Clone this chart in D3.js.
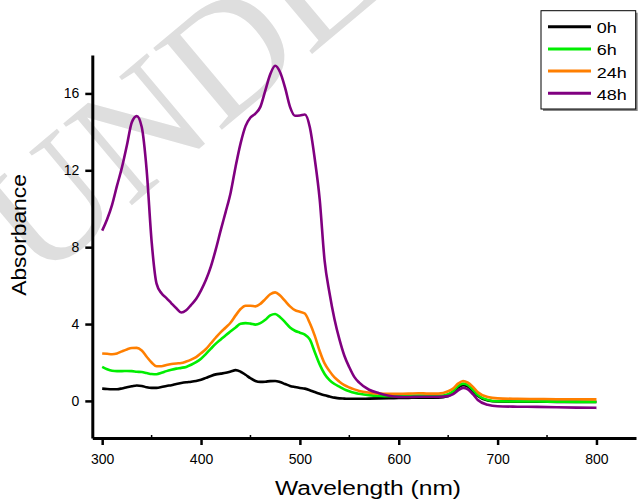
<!DOCTYPE html>
<html>
<head>
<meta charset="utf-8">
<script src="https://cdn.jsdelivr.net/npm/d3@7"></script>
<style>
  html, body { margin: 0; padding: 0; background: #fff; }
  svg { display: block; font-family: "Liberation Sans", Arial, sans-serif; }
</style>
</head>
<body>
<svg id="chart" width="638" height="503"></svg>
<script>
// Wavelength grid (nm) shared by all spectra
const wavelength = [
  300,305,310,315,320,325,330,335,340,345,350,355,360,365,370,375,380,385,390,395,
  400,405,410,415,420,425,430,435,440,445,450,455,460,465,470,475,480,485,490,495,
  500,505,510,515,520,525,530,535,540,545,550,555,560,
  570,580,590,600,610,620,630,640,650,655,660,665,670,675,680,690,700,720,740,760,780,800
];

// Absorbance spectra at each exposure time
const abs0h = [
  0.64,0.62,0.61,0.61,0.65,0.71,0.76,0.80,0.78,0.71,0.68,0.68,0.72,0.78,0.82,0.88,0.93,0.97,1.00,1.04,
  1.10,1.20,1.30,1.38,1.42,1.46,1.53,1.60,1.52,1.36,1.18,1.04,0.99,1.00,1.03,1.04,0.98,0.88,0.78,0.72,
  0.67,0.64,0.56,0.46,0.37,0.29,0.23,0.17,0.13,0.12,0.11,0.11,0.11,
  0.12,0.13,0.14,0.15,0.16,0.17,0.17,0.17,0.26,0.42,0.70,0.82,0.75,0.50,0.25,0.02,-0.03,-0.04,-0.04,-0.05,-0.05,-0.06
];
const abs6h = [
  1.77,1.65,1.57,1.55,1.55,1.56,1.55,1.52,1.50,1.45,1.40,1.39,1.46,1.55,1.62,1.68,1.72,1.77,1.88,2.02,
  2.20,2.45,2.72,2.98,3.20,3.42,3.62,3.82,4.02,4.05,4.02,3.97,4.05,4.22,4.45,4.52,4.35,4.10,3.82,3.65,
  3.55,3.45,3.20,2.55,1.90,1.40,1.08,0.88,0.74,0.60,0.50,0.42,0.37,
  0.30,0.26,0.24,0.25,0.27,0.28,0.27,0.26,0.35,0.50,0.78,0.90,0.82,0.58,0.30,0.05,-0.02,-0.03,-0.03,-0.04,-0.05,-0.05
];
const abs24h = [
  2.47,2.45,2.43,2.47,2.58,2.68,2.75,2.76,2.62,2.30,2.00,1.80,1.80,1.87,1.92,1.95,1.97,2.05,2.15,2.28,
  2.48,2.70,3.00,3.30,3.58,3.82,4.08,4.45,4.78,4.95,4.95,4.92,5.05,5.30,5.55,5.65,5.48,5.20,4.92,4.72,
  4.64,4.55,4.05,3.40,2.60,1.95,1.55,1.22,1.00,0.82,0.70,0.60,0.52,
  0.43,0.38,0.37,0.37,0.38,0.40,0.38,0.38,0.50,0.65,0.90,1.04,0.95,0.73,0.45,0.20,0.13,0.11,0.10,0.09,0.09,0.08
];
const abs48h = [
  8.86,9.45,10.20,11.20,12.15,13.30,14.50,14.82,14.25,12.00,8.30,6.10,5.60,5.35,5.08,4.82,4.60,4.72,5.00,5.30,
  5.75,6.30,7.00,7.90,8.90,9.85,10.85,12.20,13.40,14.30,14.75,14.95,15.30,16.15,17.00,17.44,17.10,16.30,15.30,14.84,
  14.85,14.90,14.25,12.60,10.50,7.30,5.60,4.25,3.20,2.35,1.75,1.25,0.95,
  0.58,0.40,0.27,0.21,0.20,0.22,0.22,0.21,0.25,0.35,0.55,0.68,0.60,0.35,0.05,-0.20,-0.28,-0.30,-0.31,-0.33,-0.35,-0.36
];

const seriesNames  = ["0h", "6h", "24h", "48h"];
const seriesValues = [abs0h, abs6h, abs24h, abs48h];
const seriesColors = ["#000000", "#00ee00", "#ff7f00", "#800080"];

const xTicks = [300, 400, 500, 600, 700, 800];
const xMinorTicks = [350, 450, 550, 650, 750];
const yTicks = [0, 4, 8, 12, 16];

const xLabel = "Wavelength (nm)";
const yLabel = "Absorbance";
const stampText = "UNDER PEER REVIEW";

const svg = d3.select("#chart");

// faint diagonal stamp in the background
svg.append("text")
  .attr("transform", "translate(38,284) rotate(-40)")
  .attr("font-family", "'Liberation Serif', 'Times New Roman', serif")
  .attr("font-size", 163)
  .attr("fill", "#dedede")
  .text(stampText);

const x = d3.scaleLinear().domain([290, 840]).range([92.3, 636]);
const y = d3.scaleLinear().domain([-1.93, 18]).range([438, 55]);

// spectra
const line = d3.line()
  .x(d => x(d[0]))
  .y(d => y(d[1]))
  .curve(d3.curveMonotoneX);

svg.append("g").selectAll("path")
  .data(seriesValues.map((vals, i) => ({ name: seriesNames[i], color: seriesColors[i], pts: wavelength.map((w, j) => [w, vals[j]]) })))
  .join("path")
  .attr("fill", "none")
  .attr("stroke", d => d.color)
  .attr("stroke-width", 2.6)
  .attr("stroke-linejoin", "round")
  .attr("d", d => line(d.pts));

// x axis
const xAxis = svg.append("g")
  .attr("transform", `translate(0,${y.range()[0]})`)
  .call(d3.axisBottom(x).tickValues(xTicks).tickSize(7).tickSizeOuter(0).tickPadding(9).tickFormat(d3.format("d")));
xAxis.select(".domain").attr("stroke", "#000").attr("stroke-width", 3);
xAxis.selectAll(".tick line").attr("stroke", "#000").attr("stroke-width", 2.5);
xAxis.selectAll(".tick text").attr("font-size", 14).attr("fill", "#000").attr("font-family", "'Liberation Sans', Arial, sans-serif");
xAxis.append("g").selectAll("line")
  .data(xMinorTicks)
  .join("line")
  .attr("x1", d => x(d)).attr("x2", d => x(d))
  .attr("y1", 0).attr("y2", -3)
  .attr("stroke", "#000").attr("stroke-width", 1.5);

// y axis
const yAxis = svg.append("g")
  .attr("transform", `translate(${x.range()[0]},0)`)
  .call(d3.axisLeft(y).tickValues(yTicks).tickSize(7).tickSizeOuter(0).tickPadding(6).tickFormat(d3.format("d")));
yAxis.select(".domain").attr("stroke", "#000").attr("stroke-width", 3);
yAxis.selectAll(".tick line").attr("stroke", "#000").attr("stroke-width", 2.5);
yAxis.selectAll(".tick text").attr("font-size", 14).attr("fill", "#000").attr("font-family", "'Liberation Sans', Arial, sans-serif");

// axis titles
svg.append("text")
  .attr("transform", "translate(368,495) scale(1.17,1)")
  .attr("text-anchor", "middle")
  .attr("font-size", 21)
  .attr("fill", "#000")
  .text(xLabel);

svg.append("text")
  .attr("transform", "translate(25.5,235) rotate(-90) scale(1.14,1)")
  .attr("text-anchor", "middle")
  .attr("font-size", 20)
  .attr("fill", "#000")
  .text(yLabel);

// legend
const legend = svg.append("g").attr("transform", "translate(541,10.7)");
legend.append("rect")
  .attr("x", 2).attr("y", 2).attr("width", 94.7).attr("height", 98.3)
  .attr("fill", "#888");
legend.append("rect")
  .attr("x", 0).attr("y", 0).attr("width", 94.7).attr("height", 98.3)
  .attr("fill", "#fff").attr("stroke", "#000").attr("stroke-width", 1);

const entry = legend.selectAll("g.entry")
  .data(seriesNames.map((n, i) => ({ name: n, color: seriesColors[i], i })))
  .join("g")
  .attr("class", "entry")
  .attr("transform", d => `translate(0,${16 + d.i * 22.2})`);
entry.append("line")
  .attr("x1", 7).attr("x2", 50)
  .attr("stroke", d => d.color).attr("stroke-width", 3);
entry.append("text")
  .attr("transform", "translate(55.7,6.5) scale(1.2,1)")
  .attr("font-size", 15)
  .attr("fill", "#000")
  .text(d => d.name);
</script>
</body>
</html>
